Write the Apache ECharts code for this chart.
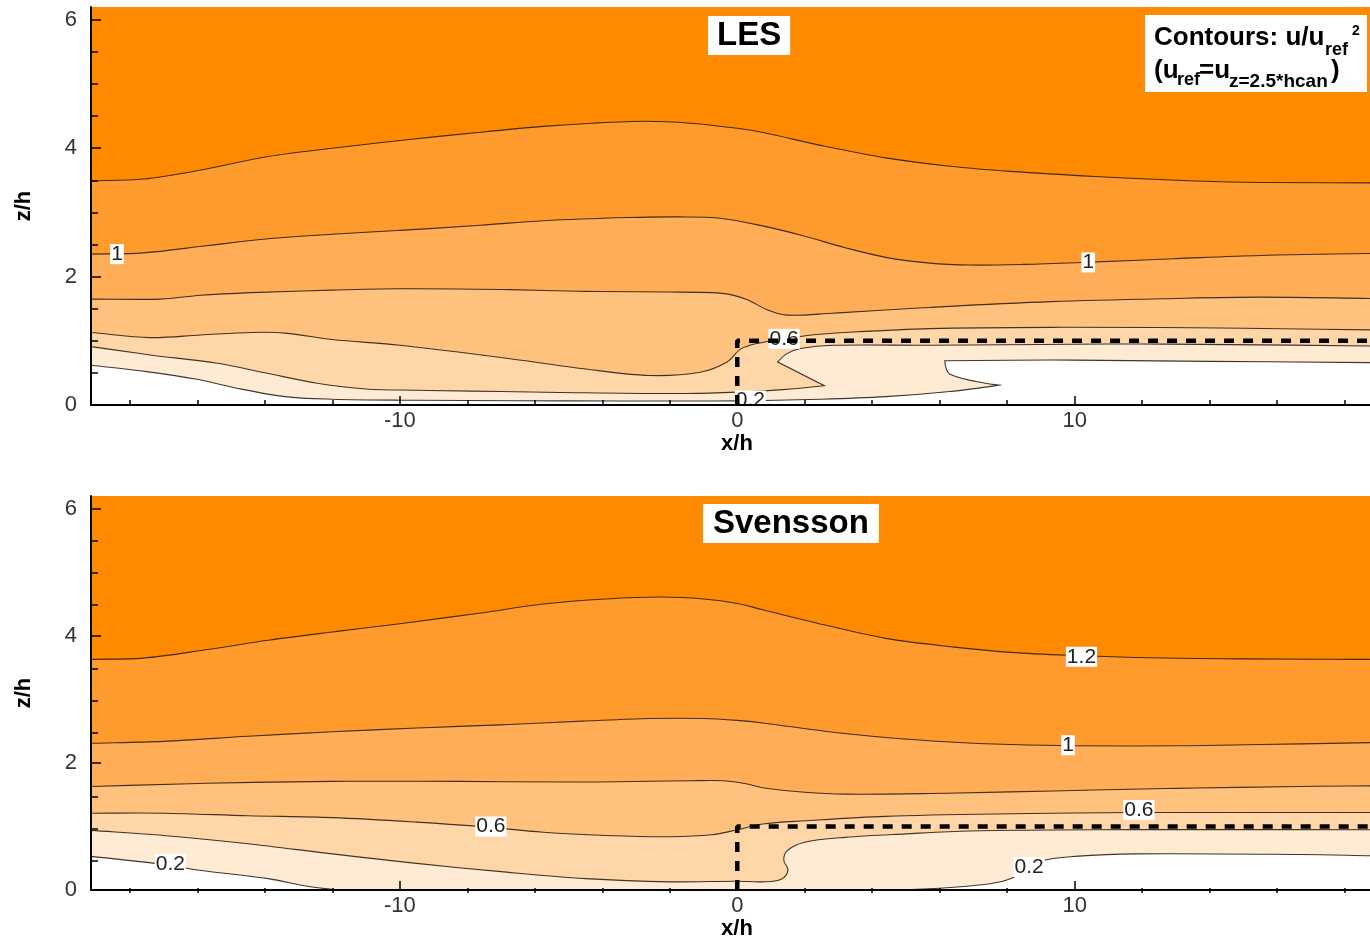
<!DOCTYPE html>
<html>
<head>
<meta charset="utf-8">
<script src="https://cdn.jsdelivr.net/npm/echarts@6/dist/echarts.min.js"></script>
<style>
html,body{margin:0;padding:0;background:#fff;}
#c{width:1370px;height:941px;}
</style>
</head>
<body>
<div id="c"></div>
<script>
// ---------------- data ----------------
const X_MIN = -19.15, X_MAX = 18.75, Z_MIN = 0, Z_MAX = 6.2;
const levels = [1.2, 1.0, 0.8, 0.6, 0.4, 0.2];

// LES panel contour lines, [x/h, z/h]
const les12 = [[-19.15,3.49],[-17.6,3.52],[-15.9,3.66],[-13.9,3.87],[-12.0,4.0],[-10.0,4.12],[-7.6,4.25],[-5.75,4.34],[-4.3,4.39],[-2.7,4.42],[-1.4,4.39],[0,4.31],[0.8,4.24],[2.6,4.03],[4.4,3.85],[6.3,3.72],[8.1,3.64],[10.6,3.56],[13.0,3.50],[15.0,3.47],[18.75,3.46]];
const les10 = [[-19.15,2.35],[-17.6,2.37],[-15.75,2.48],[-13.9,2.59],[-12.0,2.66],[-10.0,2.72],[-7.6,2.80],[-5.75,2.87],[-3.25,2.92],[-1.75,2.93],[-0.5,2.91],[0.75,2.79],[2.0,2.63],[3.2,2.45],[4.4,2.30],[5.7,2.21],[6.9,2.18],[8.5,2.19],[10.2,2.22],[13.0,2.28],[15.5,2.33],[18.75,2.36]];
const les08 = [[-19.15,1.65],[-17.1,1.65],[-15.9,1.71],[-14.4,1.75],[-12.0,1.79],[-10.0,1.81],[-7.0,1.80],[-4.5,1.77],[-2.0,1.76],[-0.75,1.75],[-0.2,1.72],[0.3,1.64],[0.9,1.48],[1.5,1.40],[2.8,1.43],[5.7,1.52],[9.3,1.61],[13.0,1.66],[15.5,1.68],[18.75,1.66]];
const les06 = [[-19.15,1.13],[-17.4,1.05],[-15.9,1.09],[-14.4,1.13],[-13.4,1.12],[-12.0,1.02],[-10.0,0.93],[-7.0,0.74],[-4.5,0.56],[-2.6,0.46],[-1.1,0.51],[-0.3,0.67],[0.1,0.87],[0.6,0.96],[1.4,1.03],[2.2,1.09],[3.2,1.13],[5.7,1.19],[9.3,1.21],[14.3,1.20],[18.75,1.17]];
const les04 = [[-19.15,0.91],[-17.4,0.78],[-15.4,0.65],[-13.9,0.49],[-12.45,0.34],[-11.0,0.25],[-9.5,0.23],[-7.0,0.21],[-4.5,0.19],[-1.5,0.18],[0,0.20],[1.35,0.24],[2.58,0.30],[1.2,0.67],[1.47,0.80],[1.87,0.88],[2.85,0.93],[5.7,0.93],[11.8,0.95],[18.75,0.92]];
const les02 = [[-19.15,0.62],[-17.5,0.52],[-16.0,0.40],[-14.9,0.27],[-13.4,0.13],[-12.0,0.09],[-10.0,0.075],[-5.0,0.065],[0,0.065],[2.5,0.09],[4.4,0.13],[6.3,0.21],[7.75,0.31],[6.3,0.48],[6.15,0.69],[9.35,0.70],[14.0,0.68],[18.75,0.66]];

// Svensson panel contour lines
const sv12 = [[-19.15,3.63],[-17.6,3.65],[-15.75,3.78],[-13.9,3.93],[-12.0,4.06],[-10.0,4.19],[-7.6,4.36],[-5.75,4.50],[-3.9,4.58],[-2.25,4.61],[-1.0,4.58],[0,4.51],[0.75,4.41],[2.6,4.17],[4.4,3.96],[6.3,3.83],[8.1,3.74],[10.0,3.69],[11.8,3.66],[14.3,3.64],[18.75,3.63]];
const sv10 = [[-19.15,2.31],[-17.0,2.34],[-14.5,2.42],[-12.0,2.49],[-9.5,2.55],[-7.0,2.60],[-4.5,2.66],[-2.6,2.70],[-1.0,2.70],[0,2.67],[0.75,2.63],[2.6,2.50],[4.4,2.40],[6.3,2.33],[8.1,2.29],[10.0,2.27],[13.0,2.27],[15.5,2.29],[18.75,2.32]];
const sv08 = [[-19.15,1.63],[-15.75,1.68],[-12.0,1.71],[-8.25,1.71],[-4.5,1.70],[-1.4,1.72],[-0.4,1.72],[0.3,1.67],[0.75,1.61],[2.0,1.54],[3.2,1.51],[5.7,1.52],[9.35,1.56],[13.0,1.60],[16.7,1.63],[18.75,1.64]];
const sv06 = [[-19.15,1.21],[-17.0,1.21],[-14.5,1.17],[-12.0,1.14],[-9.5,1.07],[-7.6,1.00],[-5.75,0.91],[-3.9,0.86],[-2.0,0.84],[-0.75,0.87],[0,0.95],[0.75,1.04],[2.0,1.09],[4.4,1.16],[8.1,1.20],[11.8,1.22],[15.5,1.22],[18.75,1.22]];
const sv04 = [[-19.15,0.94],[-17.0,0.86],[-14.5,0.73],[-12.0,0.57],[-9.5,0.42],[-7.0,0.29],[-4.5,0.18],[-2.0,0.13],[0,0.14],[0.75,0.13],[1.3,0.17],[1.5,0.31],[1.38,0.47],[1.48,0.62],[1.97,0.75],[3.2,0.83],[5.0,0.885],[6.9,0.93],[10.6,0.95],[18.75,0.95]];
const sv02 = [[-19.15,0.53],[-17.25,0.42],[-15.75,0.30],[-13.9,0.18],[-12.6,0.05],[-11.5,0.0],[4.0,0.0],[6.0,0.03],[7.5,0.10],[8.1,0.18],[8.65,0.33],[9.1,0.47],[10.0,0.53],[11.8,0.57],[16.7,0.56],[18.75,0.54]];

// contour labels [x, z, text]
const lesLabels = [[-18.38,2.35,'1'],[10.4,2.22,'1'],[1.39,1.03,'0.6'],[0.39,0.07,'0.2']];
const svLabels = [[10.2,3.67,'1.2'],[9.8,2.28,'1'],[-7.3,1.0,'0.6'],[11.9,1.26,'0.6'],[-16.8,0.41,'0.2'],[8.65,0.36,'0.2']];

// canopy outline
const canopyX = [0, 0, X_MAX];
const canopyZ = [0, 1, 1];

// ticks
const xMajorTicks = [-10, 0, 10];
const xMinorTicks = [-18,-16,-14,-12,-8,-6,-4,-2,2,4,6,8,12,14,16,18];
const zMajorTicks = [0, 2, 4, 6];
const zMinorTicks = [0.5,1,1.5,2.5,3,3.5,4.5,5,5.5];

// ---------------- style ----------------
const FONT = "'Liberation Sans', Arial, sans-serif";
const bandColors = ['#FF8A00', '#FF9B2C', '#FFAD56', '#FFC17E', '#FFD6A8', '#FFEAD3', '#FFFFFF'];
const LINE_COLOR = 'rgba(45,32,20,0.9)';

const lesContours = [les12, les10, les08, les06, les04, les02];
const svContours = [sv12, sv10, sv08, sv06, sv04, sv02];

function smoothPath(pts) {
  const n = pts.length;
  const tan = pts.map((p, i) => {
    const a = pts[Math.max(i - 1, 0)], b = pts[Math.min(i + 1, n - 1)];
    if (i > 0 && i < n - 1) {
      const v1 = [p[0] - a[0], p[1] - a[1]], v2 = [b[0] - p[0], b[1] - p[1]];
      const l1 = Math.hypot(v1[0], v1[1]), l2 = Math.hypot(v2[0], v2[1]);
      if (l1 && l2 && (v1[0] * v2[0] + v1[1] * v2[1]) / (l1 * l2) < 0.35) return null;
    }
    const dx = b[0] - a[0], dy = b[1] - a[1], L = Math.hypot(dx, dy) || 1;
    return [dx / L, dy / L];
  });
  let d = 'M' + pts[0][0] + ',' + pts[0][1];
  for (let i = 0; i < n - 1; i++) {
    const p = pts[i], q = pts[i + 1];
    const seg = Math.hypot(q[0] - p[0], q[1] - p[1]) / 3;
    const t1 = tan[i], t2 = tan[i + 1];
    const c1 = t1 ? [p[0] + t1[0] * seg, p[1] + t1[1] * seg] : p;
    const c2 = t2 ? [q[0] - t2[0] * seg, q[1] - t2[1] * seg] : q;
    d += ' C' + c1[0] + ',' + c1[1] + ' ' + c2[0] + ',' + c2[1] + ' ' + q[0] + ',' + q[1];
  }
  return d;
}

function fillSeries(gi, contours) {
  return {
    type: 'custom', coordinateSystem: 'cartesian2d', xAxisIndex: gi, yAxisIndex: gi,
    z: 1, silent: true, clip: true,
    data: contours.map((c, i) => [i, 0]),
    renderItem: function (params, api) {
      const c = contours[params.dataIndex];
      const pts = c.map(p => api.coord(p));
      const br = api.coord([X_MAX, Z_MIN]), bl = api.coord([X_MIN, Z_MIN]);
      const d = smoothPath(pts) + ' L' + br[0] + ',' + br[1] + ' L' + bl[0] + ',' + bl[1] + ' Z';
      return { type: 'path', shape: { pathData: d }, style: { fill: bandColors[params.dataIndex + 1], stroke: null } };
    }
  };
}

function lineSeries(gi, contours) {
  return {
    type: 'custom', coordinateSystem: 'cartesian2d', xAxisIndex: gi, yAxisIndex: gi,
    z: 2, silent: true, clip: true,
    data: contours.map((c, i) => [i, 0]),
    renderItem: function (params, api) {
      const c = contours[params.dataIndex];
      const pts = c.map(p => api.coord(p));
      return { type: 'path', shape: { pathData: smoothPath(pts) }, style: { fill: null, stroke: LINE_COLOR, lineWidth: 1.1 } };
    }
  };
}

function labelSeries(gi, labels) {
  return {
    type: 'scatter', xAxisIndex: gi, yAxisIndex: gi, z: 3, silent: true,
    symbolSize: 1, itemStyle: { color: 'rgba(0,0,0,0)' },
    data: labels.map(l => ({ value: [l[0], l[1]], name: l[2] })),
    label: {
      show: true, position: 'inside', formatter: '{b}', color: '#222', fontSize: 21, opacity: 1,
      fontFamily: FONT, backgroundColor: '#fff', padding: [1, 1, 0, 1], lineHeight: 19
    },
    labelLayout: { hideOverlap: false }
  };
}

function canopySeries(gi) {
  return {
    type: 'line', xAxisIndex: gi, yAxisIndex: gi, z: 5, silent: true,
    symbol: 'none', animation: false,
    data: canopyX.map((x, i) => [x, canopyZ[i]]),
    lineStyle: { color: '#000', width: 4.5, type: [10, 9] }
  };
}

function mainX(gi) {
  return {
    type: 'value', gridIndex: gi, min: X_MIN, max: X_MAX, z: 10,
    name: 'x/h', nameLocation: 'middle', nameGap: 22,
    nameTextStyle: { fontSize: 22, fontWeight: 'bold', color: '#000', fontFamily: FONT, padding: [0, 0, 0, 13] },
    axisLine: { show: true, onZero: false, lineStyle: { color: '#000', width: 2 } },
    axisTick: { show: true, inside: true, length: 9, customValues: xMajorTicks, lineStyle: { color: '#000', width: 1.5 } },
    axisLabel: { show: true, customValues: xMajorTicks, fontSize: 22, color: '#333', margin: 5, fontFamily: FONT },
    splitLine: { show: false }
  };
}
function minorX(gi) {
  return {
    type: 'value', gridIndex: gi, min: X_MIN, max: X_MAX, z: 10,
    axisLine: { show: false, onZero: false },
    axisTick: { show: true, inside: true, length: 5, customValues: xMinorTicks, lineStyle: { color: '#000', width: 1.5 } },
    axisLabel: { show: false },
    splitLine: { show: false }
  };
}
function mainY(gi) {
  return {
    type: 'value', gridIndex: gi, min: Z_MIN, max: Z_MAX, z: 10,
    name: 'z/h', nameLocation: 'middle', nameGap: 56,
    nameTextStyle: { fontSize: 22, fontWeight: 'bold', color: '#000', fontFamily: FONT },
    axisLine: { show: true, onZero: false, lineStyle: { color: '#000', width: 2 } },
    axisTick: { show: true, inside: true, length: 10, customValues: zMajorTicks, lineStyle: { color: '#000', width: 1.5 } },
    axisLabel: { show: true, customValues: zMajorTicks, fontSize: 22, color: '#333', margin: 14, fontFamily: FONT },
    splitLine: { show: false }
  };
}
function minorY(gi) {
  return {
    type: 'value', gridIndex: gi, min: Z_MIN, max: Z_MAX, z: 10,
    axisLine: { show: false, onZero: false },
    axisTick: { show: true, inside: true, length: 7, customValues: zMinorTicks, lineStyle: { color: '#000', width: 1.5 } },
    axisLabel: { show: false },
    splitLine: { show: false }
  };
}

function legendText(x, y, text, size) {
  return { type: 'text', x: x, y: y, z: 101,
    style: { text: text, fontSize: size, fontWeight: 'bold', fontFamily: FONT, fill: '#000', align: 'left', verticalAlign: 'middle' } };
}

const gridTop = { left: 91, right: 0, top: 7, height: 398 };
const gridBot = { left: 91, right: 0, top: 496, height: 397 };

const option = {
  animation: false,
  backgroundColor: '#fff',
  grid: [
    Object.assign({ show: true, backgroundColor: bandColors[0], borderWidth: 0 }, gridTop),
    Object.assign({ show: true, backgroundColor: bandColors[0], borderWidth: 0 }, gridBot),
    Object.assign({ show: false }, gridTop),
    Object.assign({ show: false }, gridBot)
  ],
  xAxis: [mainX(0), mainX(1), minorX(2), minorX(3)],
  yAxis: [mainY(0), mainY(1), minorY(2), minorY(3)],
  title: [
    { text: 'LES', left: 708, top: 16, padding: [3, 9], backgroundColor: '#fff', z: 20,
      textStyle: { fontSize: 33, fontWeight: 'bold', color: '#000', fontFamily: FONT, lineHeight: 33 } },
    { text: 'Svensson', left: 703, top: 504, padding: [3, 10], backgroundColor: '#fff', z: 20,
      textStyle: { fontSize: 33, fontWeight: 'bold', color: '#000', fontFamily: FONT, lineHeight: 33 } }
  ],
  graphic: [
    { type: 'rect', shape: { x: 1145, y: 15, width: 222, height: 77 }, style: { fill: '#fff' }, z: 100 },
    legendText(1154, 38, 'Contours: u/u', 26),
    legendText(1325, 50.5, 'ref', 18),
    legendText(1352, 31.6, '2', 14),
    legendText(1154, 71, '(u', 26),
    legendText(1177, 80.3, 'ref', 18),
    legendText(1199, 71, '=u', 26),
    legendText(1229, 81.4, 'z=2.5*hcan', 19),
    legendText(1331, 71, ')', 26)
  ],
  series: [
    fillSeries(0, lesContours), lineSeries(0, lesContours), labelSeries(0, lesLabels), canopySeries(0),
    fillSeries(1, svContours), lineSeries(1, svContours), labelSeries(1, svLabels), canopySeries(1)
  ]
};

const chart = echarts.init(document.getElementById('c'), null, { renderer: 'canvas' });
chart.setOption(option);
</script>
</body>
</html>
